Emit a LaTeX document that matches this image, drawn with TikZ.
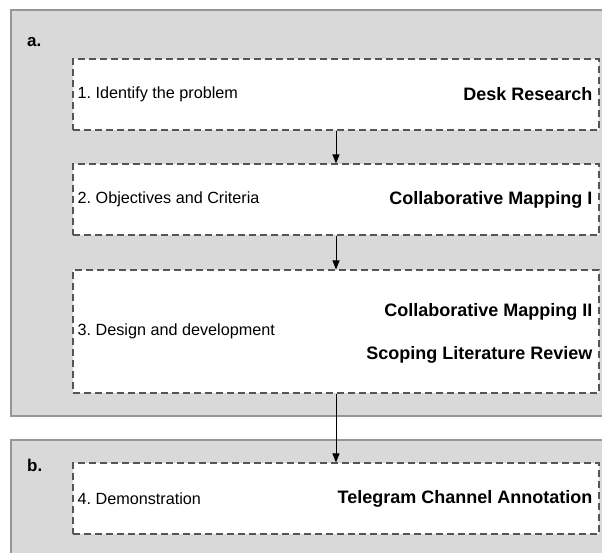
\documentclass[tikz,border=0pt]{standalone}
\usepackage{fontspec}
\setmainfont{Liberation Sans}
\usepackage{xcolor}
\usetikzlibrary{positioning,arrows.meta}
\definecolor{panelgray}{RGB}{217,217,217}
\definecolor{paneledge}{RGB}{150,150,150}
\definecolor{dashgray}{RGB}{85,85,85}
\frenchspacing

\begin{document}
\begin{tikzpicture}[x=1pt, y=-1pt,
  panel/.style={fill=panelgray, draw=paneledge, line width=1.3pt},
  stage/.style={rectangle, draw=dashgray, fill=white, line width=1.1pt,
                dash pattern=on 7pt off 4pt, minimum width=526pt, inner sep=0pt},
  steplabel/.style={inner sep=0pt, font=\fontsize{16.2}{19}\selectfont},
  methodlabel/.style={inner sep=0pt, font=\fontsize{18}{21}\selectfont\bfseries},
  panellabel/.style={inner sep=0pt, anchor=west, font=\fontsize{17}{20}\selectfont\bfseries},
  flow/.style={-{Triangle[length=9pt,width=7pt]}, line width=0.9pt, black}
]
  \clip (0,0) rectangle (602,552);
  \fill[white] (0,0) rectangle (602,552);

  % panels
  \draw[panel] (11,10) rectangle (625,416);
  \draw[panel] (11,440) rectangle (625,570);
  \node[panellabel] (pa) at (27,42) {a.};
  \node[panellabel] (pb) at (27,465) {b.};

  % stages
  \node[stage, minimum height=71pt] (s1) at (336,94.5) {};
  \node[stage, minimum height=71pt] (s2) at (336,199.5) {};
  \node[stage, minimum height=123pt] (s3) at (336,331.5) {};
  \node[stage, minimum height=71pt] (s4) at (336,498.5) {};

  \node[steplabel, right=5pt of s1.west] (l1) {1. Identify the problem};
  \node[steplabel, right=5pt of s2.west] (l2) {2. Objectives and Criteria};
  \node[steplabel, right=5pt of s3.west] (l3) {3. Design and development};
  \node[steplabel, right=5pt of s4.west] (l4) {4. Demonstration};

  \node[methodlabel, left=7pt of s1.east] (m1) {Desk Research};
  \node[methodlabel, left=7pt of s2.east] (m2) {Collaborative Mapping I};
  \node[methodlabel, anchor=east] (m3a) at ([xshift=-7pt, yshift=19.5pt]s3.east) {Collaborative Mapping II};
  \node[methodlabel, anchor=east] (m3b) at ([xshift=-7pt, yshift=-23.5pt]s3.east) {Scoping Literature Review};
  \node[methodlabel, left=7pt of s4.east] (m4) {Telegram Channel Annotation};

  % connectors
  \draw[flow] (s1.south) -- (s2.north);
  \draw[flow] (s2.south) -- (s3.north);
  \draw[flow] (s3.south) -- (s4.north);
\end{tikzpicture}
\end{document}
